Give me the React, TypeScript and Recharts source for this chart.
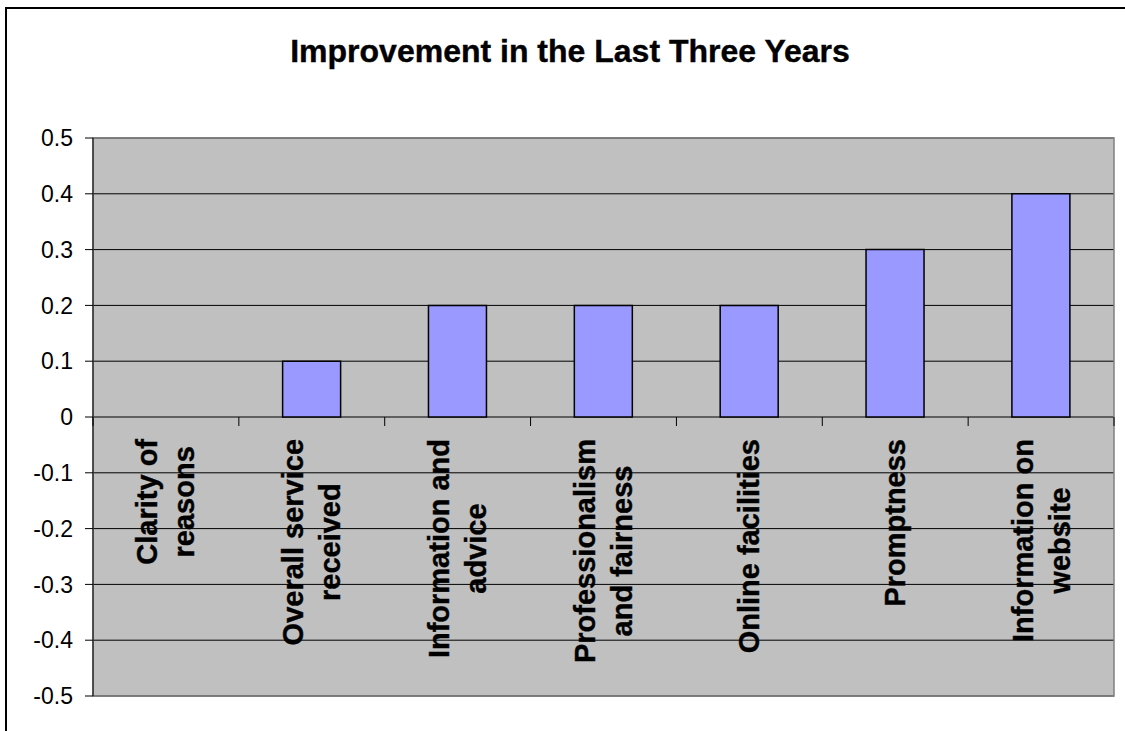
import { BarChart, Bar, XAxis, YAxis, CartesianGrid, ReferenceArea } from "recharts";

// Categories use "\n" where the axis label wraps onto a second line
const CATEGORIES = [
  "Clarity of\nreasons",
  "Overall service\nreceived",
  "Information and\nadvice",
  "Professionalism\nand fairness",
  "Online facilities",
  "Promptness",
  "Information on\nwebsite",
];
const IMPROVEMENT = [0, 0.1, 0.2, 0.2, 0.2, 0.3, 0.4];
const Y_TICKS = [-0.5, -0.4, -0.3, -0.2, -0.1, 0, 0.1, 0.2, 0.3, 0.4, 0.5];
const Y_DOMAIN: [number, number] = [-0.5, 0.5];

const W = 1125;
const H = 731;
const MARGIN = { top: 138, right: 11, bottom: 5, left: 0 };
const Y_AXIS_W = 93;
const X_AXIS_H = 30;
const PLOT_W = W - MARGIN.left - MARGIN.right - Y_AXIS_W;
const PLOT_H = H - MARGIN.top - MARGIN.bottom - X_AXIS_H;
// category labels hang from the zero line, not from the bottom of the plot
const ZERO_Y = MARGIN.top + (PLOT_H * Y_DOMAIN[1]) / (Y_DOMAIN[1] - Y_DOMAIN[0]);

const FONT = '"Liberation Sans", Arial, sans-serif';
const LABEL_SIZE = 29;
const LABEL_LINE = 37;
const LABEL_GAP = 22;

const data = CATEGORIES.map((name, i) => ({ name, value: IMPROVEMENT[i] }));

let measureCtx: CanvasRenderingContext2D | null = null;
const measure = (text: string) => {
  if (!measureCtx) measureCtx = document.createElement("canvas").getContext("2d");
  if (!measureCtx) return text.length * LABEL_SIZE * 0.6;
  measureCtx.font = `bold ${LABEL_SIZE}px ${FONT}`;
  return measureCtx.measureText(text).width;
};

const CategoryTick = (props: any) => {
  const { x, index, payload } = props;
  const band = PLOT_W / CATEGORIES.length;
  const lines = String(payload.value).split("\n");
  const longest = Math.max(...lines.map(measure));
  const cy = ZERO_Y + LABEL_GAP + longest / 2;
  return (
    <g>
      <line x1={x - band / 2} x2={x - band / 2} y1={ZERO_Y} y2={ZERO_Y + 9} stroke="#000" />
      {index === CATEGORIES.length - 1 && (
        <line x1={x + band / 2} x2={x + band / 2} y1={ZERO_Y} y2={ZERO_Y + 9} stroke="#000" />
      )}
      <text
        transform={`translate(${x},${cy}) rotate(-90)`}
        textAnchor="middle"
        fontFamily={FONT}
        fontSize={LABEL_SIZE}
        fontWeight="bold"
        fill="#000"
        stroke="#000"
        strokeWidth={0.4}
      >
        {lines.map((line, i) => (
          <tspan key={i} x={0} y={(i - (lines.length - 1) / 2) * LABEL_LINE + 10}>
            {line}
          </tspan>
        ))}
      </text>
    </g>
  );
};

export default function App() {
  return (
    <div style={{ position: "absolute", left: 0, top: 0, width: W, height: H, overflow: "hidden", background: "#fff" }}>
      {/* chart frame: only its top and left edges fall inside the view */}
      <div
        style={{
          position: "absolute",
          left: 5,
          top: 7,
          right: 0,
          bottom: 0,
          borderTop: "2px solid #000",
          borderLeft: "2px solid #000",
        }}
      />
      <div
        style={{
          position: "absolute",
          left: 0,
          top: 35,
          width: 1140,
          textAlign: "center",
          fontFamily: FONT,
          fontWeight: "bold",
          fontSize: 32,
          lineHeight: "32px",
          color: "#000",
          WebkitTextStroke: "0.4px #000",
        }}
      >
        Improvement in the Last Three Years
      </div>
      <div style={{ position: "absolute", left: 0, top: 0 }}>
        <BarChart width={W} height={H} data={data} margin={MARGIN} barCategoryGap="30%">
          <CartesianGrid vertical={false} stroke="#000" fill="#c0c0c0" fillOpacity={1} />
          <ReferenceArea y1={Y_DOMAIN[0]} y2={Y_DOMAIN[1]} fill="none" stroke="#808080" strokeWidth={1.5} />
          <XAxis
            dataKey="name"
            height={X_AXIS_H}
            axisLine={false}
            tickLine={false}
            interval={0}
            tick={<CategoryTick />}
          />
          <YAxis
            width={Y_AXIS_W}
            domain={Y_DOMAIN}
            ticks={Y_TICKS}
            interval={0}
            allowDataOverflow
            axisLine={{ stroke: "#000" }}
            tickLine={{ stroke: "#000" }}
            tickSize={8}
            tickMargin={12}
            tick={{ fontFamily: FONT, fontSize: 23, fill: "#000" }}
          />
          <Bar dataKey="value" fill="#9999ff" stroke="#000" strokeWidth={1.5} isAnimationActive={false} />
        </BarChart>
      </div>
    </div>
  );
}
